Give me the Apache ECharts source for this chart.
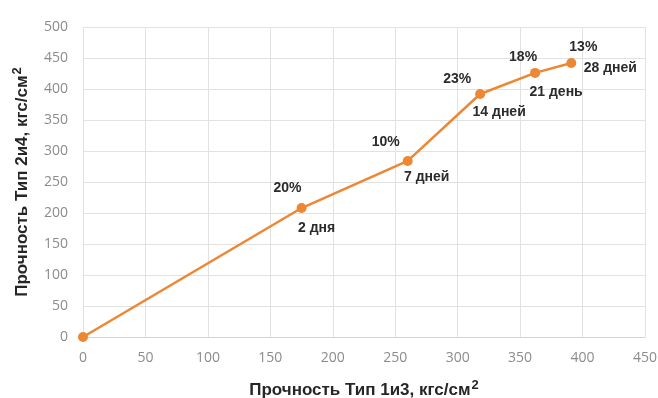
<!DOCTYPE html>
<html>
<head>
<meta charset="utf-8">
<script src="https://cdn.jsdelivr.net/npm/echarts@6/dist/echarts.min.js"></script>
<style>
  html, body { margin: 0; padding: 0; background: #fff; }
  #chart { width: 658px; height: 398px; }
</style>
</head>
<body>
<div id="chart"></div>
<script>
// Strength of type 1&3 vs type 2&4 specimens at each curing age
const strengthType13 = [0, 175, 260, 318, 362, 391];
const strengthType24 = [0, 208, 284, 392, 426, 442];
const gainLabels = ['', '20%', '10%', '23%', '18%', '13%'];
const ageLabels = ['', '2 дня', '7 дней', '14 дней', '21 день', '28 дней'];

// label offsets per point (percent above-left, age below-right)
const gainOffsets = [[0, 0], [-14, -20], [-22, -19], [-23, -15], [-12, -16], [12, -16]];
const ageOffsets = [[0, 0], [15, 20], [19, 16], [19, 18], [21, 19], [39, 5]];

const orange = '#EE8733';
const labelStyle = {
  color: '#2b2b2b',
  fontFamily: 'Liberation Sans',
  fontWeight: 'bold',
  fontSize: 14,
  textBorderWidth: 0,
  textBorderColor: 'transparent',
  opacity: 1
};

const lineData = strengthType13.map((x, i) => ({
  value: [x, strengthType24[i]],
  label: {
    show: gainLabels[i] !== '',
    formatter: gainLabels[i],
    position: 'inside',
    offset: gainOffsets[i],
    ...labelStyle
  }
}));

const ageData = strengthType13.map((x, i) => ({
  value: [x, strengthType24[i]],
  label: {
    show: ageLabels[i] !== '',
    formatter: ageLabels[i],
    position: 'inside',
    offset: ageOffsets[i],
    ...labelStyle
  }
}));

const axisNameStyle = {
  color: '#262626',
  fontFamily: 'Liberation Sans',
  fontWeight: 'bold',
  fontSize: 17,
  rich: {
    sup: {
      fontFamily: 'Liberation Sans',
      fontWeight: 'bold',
      fontSize: 13,
      color: '#262626',
      padding: [0, 0, 9, 1]
    }
  }
};

const tickLabelStyle = {
  color: '#8c8c8c',
  fontFamily: 'Open Sans',
  fontSize: 14
};

const chart = echarts.init(document.getElementById('chart'), null, { renderer: 'canvas' });
chart.setOption({
  animation: false,
  backgroundColor: '#ffffff',
  grid: { left: 83, right: 13, top: 27, bottom: 61, containLabel: false, outerBoundsMode: 'none' },
  xAxis: {
    type: 'value',
    min: 0, max: 450, interval: 50,
    name: 'Прочность Тип 1и3, кгс/см{sup|2}',
    nameLocation: 'middle',
    nameGap: 42,
    nameTextStyle: axisNameStyle,
    axisLine: { show: true, lineStyle: { color: '#d4d4d4', width: 1 } },
    axisTick: { show: false },
    axisLabel: { ...tickLabelStyle, margin: 14 },
    splitLine: { show: true, lineStyle: { color: '#e2e2e2', width: 1 } }
  },
  yAxis: {
    type: 'value',
    min: 0, max: 500, interval: 50,
    name: 'Прочность Тип 2и4, кгс/см{sup|2}',
    nameLocation: 'middle',
    nameGap: 50,
    nameTextStyle: axisNameStyle,
    axisLine: { show: false },
    axisTick: { show: false },
    axisLabel: { ...tickLabelStyle, margin: 15 },
    splitLine: { show: true, lineStyle: { color: '#e2e2e2', width: 1 } }
  },
  series: [
    {
      type: 'line',
      data: lineData,
      symbol: 'circle',
      symbolSize: 10,
      itemStyle: { color: orange },
      lineStyle: { color: orange, width: 2.5 },
      z: 3
    },
    {
      type: 'scatter',
      data: ageData,
      symbol: 'circle',
      symbolSize: 0.01,
      itemStyle: { color: orange, opacity: 1 },
      z: 4
    }
  ]
});
</script>
</body>
</html>
